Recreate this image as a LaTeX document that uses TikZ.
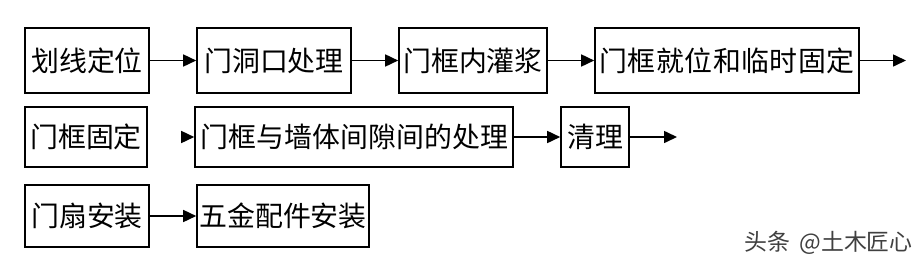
\documentclass[tikz,border=0pt]{standalone}
\usepackage{fontspec}
\setmainfont{Noto Sans CJK SC}
\usetikzlibrary{arrows.meta}
\tikzset{
  stepbox/.style={draw=black, line width=1.6bp, inner sep=0pt, minimum height=#1, font=\fontsize{28}{28}\selectfont, text=black},
  flow/.style={line width=1.6bp, -{Triangle[length=13bp,width=12bp]}},
}
\begin{document}
\begin{tikzpicture}[x=1bp,y=-1bp]
\useasboundingbox[fill=white] (0,0) rectangle (920,264);
% row 1
\node[stepbox=65bp, minimum width=124bp] (a1) at (87,60.5) {划线定位};
\node[stepbox=65bp, minimum width=154bp] (a2) at (274,60.5) {门洞口处理};
\node[stepbox=65bp, minimum width=148bp] (a3) at (473,60.5) {门框内灌浆};
\node[stepbox=65bp, minimum width=264bp] (a4) at (727,60.5) {\makebox[255bp][s]{门\hfill 框\hfill 就\hfill 位\hfill 和\hfill 临\hfill 时\hfill 固\hfill 定}};
\coordinate (a5) at (906,60.5);
% row 2
\node[stepbox=60bp, minimum width=122bp] (b1) at (86,137) {门框固定};
\coordinate (b0) at (181,137);
\node[stepbox=60bp, minimum width=318bp] (b2) at (354,137) {\makebox[308bp][s]{门\hfill 框\hfill 与\hfill 墙\hfill 体\hfill 间\hfill 隙\hfill 间\hfill 的\hfill 处\hfill 理}};
\node[stepbox=60bp, minimum width=68bp] (b3) at (595,137) {清理};
\coordinate (b4) at (677,137);
% row 3
\node[stepbox=62bp, minimum width=124bp] (c1) at (87,216) {门扇安装};
\node[stepbox=62bp, minimum width=172bp] (c2) at (283,216) {五金配件安装};
% arrows
\draw[flow] (a1) -- (a2);
\draw[flow] (a2) -- (a3);
\draw[flow] (a3) -- (a4);
\draw[flow] (a4) -- (a5);
\draw[flow] (b0) -- (b2);
\draw[flow] (b2) -- (b3);
\draw[flow] (b3) -- (b4);
\draw[flow] (c1) -- (c2);
% watermark
\node[anchor=east, text=black!75, font=\fontsize{23}{24}\selectfont, inner sep=0pt] (wm) at (913,243) {头条\hspace{4bp} @土木匠心};
\end{tikzpicture}
\end{document}
